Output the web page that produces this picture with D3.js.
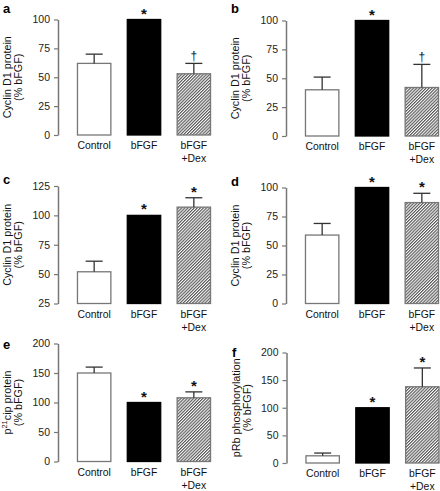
<!DOCTYPE html>
<html><head><meta charset="utf-8">
<script src="https://cdn.jsdelivr.net/npm/d3@7"></script>
<style>body{margin:0;background:#fff}svg{display:block}text{font-family:"Liberation Sans",Arial,sans-serif}</style>
</head><body>
<svg id="c" width="440" height="491"></svg>
<script>
const categories = ["Control", "bFGF", "bFGF\n+Dex"];
const panelLetters = ["a", "b", "c", "d", "e", "f"];
const yLabels = [
  ["Cyclin D1 protein", "(% bFGF)"],
  ["Cyclin D1 protein", "(% bFGF)"],
  ["Cyclin D1 protein", "(% bFGF)"],
  ["Cyclin D1 protein", "(% bFGF)"],
  ["p21cip protein", "(% bFGF)"],
  ["pRb phosphorylation", "(% bFGF)"]
];
const meanA = [62, 100, 53], errA = [70, 100, 62], markA = ["", "*", "†"];
const meanB = [40, 100, 42], errB = [51, 100, 62], markB = ["", "*", "†"];
const meanC = [52, 100, 107], errC = [61, 100, 115], markC = ["", "*", "*"];
const meanD = [59, 100, 87], errD = [69, 100, 95], markD = ["", "*", "*"];
const meanE = [150, 100, 108], errE = [160, 100, 118], markE = ["", "*", "*"];
const meanF = [13, 100, 138], errF = [18, 100, 172], markF = ["", "*", "*"];
const ticksA = [0, 25, 50, 75, 100];
const ticksC = [25, 50, 75, 100, 125];
const ticksE = [0, 50, 100, 150, 200];

const svg = d3.select("#c");
const defs = svg.append("defs");
const pat = defs.append("pattern").attr("id", "hatch").attr("patternUnits", "userSpaceOnUse")
  .attr("width", 2.2).attr("height", 2.2).attr("patternTransform", "rotate(45)");
pat.append("rect").attr("width", 2.2).attr("height", 2.2).attr("fill", "#fff");
pat.append("line").attr("x1", 0.6).attr("y1", 0).attr("x2", 0.6).attr("y2", 2.2)
  .attr("stroke", "#333").attr("stroke-width", 0.95);

const fills = ["#fff", "#000", "url(#hatch)"];

const panels = [
  {letter: 0, ax: 58, top: 19.5, bot: 135, domain: [0, 100], ticks: ticksA, mean: meanA, err: errA, mark: markA, lx: 3, ly: 13},
  {letter: 1, ax: 286, top: 20.5, bot: 136, domain: [0, 100], ticks: ticksA, mean: meanB, err: errB, mark: markB, lx: 231, ly: 13},
  {letter: 2, ax: 58, top: 186, bot: 303.5, domain: [25, 125], ticks: ticksC, mean: meanC, err: errC, mark: markC, lx: 3, ly: 184},
  {letter: 3, ax: 286, top: 187.5, bot: 303.5, domain: [0, 100], ticks: ticksA, mean: meanD, err: errD, mark: markD, lx: 231, ly: 186},
  {letter: 4, ax: 58, top: 343.5, bot: 461.5, domain: [0, 200], ticks: ticksE, mean: meanE, err: errE, mark: markE, lx: 3, ly: 349},
  {letter: 5, ax: 286.5, top: 352.5, bot: 463, domain: [0, 200], ticks: ticksE, mean: meanF, err: errF, mark: markF, lx: 232, ly: 357}
];

panels.forEach((p, pi) => {
  const g = svg.append("g");
  const y = d3.scaleLinear().domain(p.domain).range([p.bot, p.top]);
  const x = d3.scaleBand().domain(categories).range([p.ax + 11, p.ax + 161]).paddingInner(0.33).paddingOuter(0.17);

  // y axis
  const axis = g.append("g").attr("transform", `translate(${p.ax},0)`)
    .call(d3.axisLeft(y).tickValues(p.ticks).tickSize(4).tickPadding(4).tickSizeOuter(0));
  axis.select(".domain").attr("stroke", "#777").attr("stroke-width", 1.5);
  axis.selectAll(".tick line").attr("stroke", "#777").attr("stroke-width", 1.2);
  axis.selectAll(".tick text").attr("fill", "#222").attr("font-size", 10.5)
    .style("font-family", '"Liberation Sans",Arial,sans-serif');

  // bars
  const data = categories.map((c, i) => ({c, i, m: p.mean[i], e: p.err[i], mk: p.mark[i]}));
  g.selectAll("rect.bar").data(data).join("rect").attr("class", "bar")
    .attr("x", d => x(d.c)).attr("width", x.bandwidth())
    .attr("y", d => y(d.m)).attr("height", d => y(p.domain[0]) - y(d.m))
    .attr("fill", d => fills[d.i]).attr("stroke", d => d.i === 1 ? "#000" : "#777").attr("stroke-width", 1.3);

  // error bars
  const eb = data.filter(d => d.e > d.m);
  g.selectAll("line.ev").data(eb).join("line").attr("class", "ev")
    .attr("x1", d => x(d.c) + x.bandwidth() / 2).attr("x2", d => x(d.c) + x.bandwidth() / 2)
    .attr("y1", d => y(d.m)).attr("y2", d => y(d.e)).attr("stroke", "#333").attr("stroke-width", 1.3);
  g.selectAll("line.ec").data(eb).join("line").attr("class", "ec")
    .attr("x1", d => x(d.c) + x.bandwidth() / 2 - 8.5).attr("x2", d => x(d.c) + x.bandwidth() / 2 + 8.5)
    .attr("y1", d => y(d.e)).attr("y2", d => y(d.e)).attr("stroke", "#333").attr("stroke-width", 1.3);

  // significance marks
  g.selectAll("text.mk").data(data.filter(d => d.mk)).join("text").attr("class", "mk")
    .attr("x", d => x(d.c) + x.bandwidth() / 2)
    .attr("y", d => y(Math.max(d.e, d.m)) - (d.mk === "*" ? 1 : 3))
    .attr("text-anchor", "middle").attr("font-size", d => d.mk === "*" ? 15 : 12)
    .attr("font-weight", d => d.mk === "*" ? "bold" : "normal")
    .attr("fill", "#111").text(d => d.mk);

  // category labels
  data.forEach(d => {
    const lines = d.c.split("\n");
    lines.forEach((ln, k) => {
      g.append("text").attr("x", x(d.c) + x.bandwidth() / 2).attr("y", p.bot + 14 + k * 13.2)
        .attr("text-anchor", "middle").attr("font-size", 10.4).attr("fill", "#111").text(ln);
    });
  });

  // y label
  const cy = (p.top + p.bot) / 2;
  const lx0 = p.ax - 47;
  yLabels[pi].forEach((ln, k) => {
    const t = g.append("text").attr("transform", `translate(${lx0 + k * 11},${cy}) rotate(-90)`)
      .attr("text-anchor", "middle").attr("font-size", 10.8).attr("fill", "#111");
    if (ln.startsWith("p21")) {
      t.append("tspan").text("p");
      t.append("tspan").attr("font-size", 7.5).attr("dy", -4).text("21");
      t.append("tspan").attr("dy", 4).text("cip protein");
    } else t.text(ln);
  });

  // panel letter
  g.append("text").attr("x", p.lx).attr("y", p.ly).attr("font-size", 13).attr("font-weight", "bold")
    .attr("fill", "#000").text(panelLetters[p.letter]);
});
</script>
</body></html>
